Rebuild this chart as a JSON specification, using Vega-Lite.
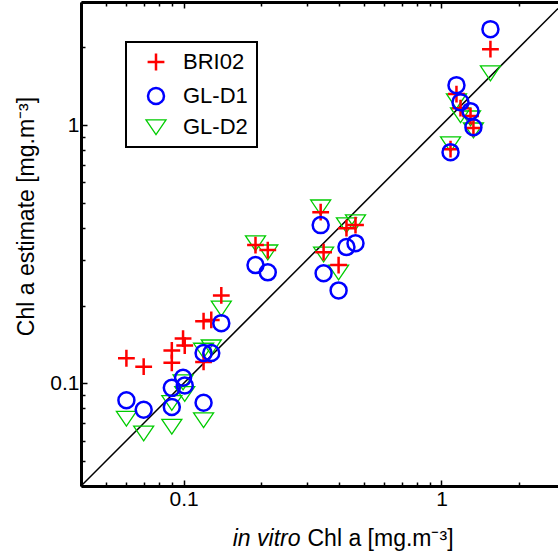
{
  "$schema": "https://vega.github.io/schema/vega-lite/v6.json",
  "width": 477,
  "height": 484,
  "autosize": {"type": "none"},
  "padding": {"left": 81, "top": 2, "right": 0, "bottom": 66},
  "background": "white",
  "config": {
    "view": {"stroke": null},
    "font": "Liberation Sans",
    "legend": {"strokeWidth": 2}
  },
  "datasets": {
    "diag": [{"v": 0.04}, {"v": 2.83}],
    "pts": [
      {"x": 0.060, "y": 0.073, "series": "GL-D2"},
      {"x": 0.070, "y": 0.064, "series": "GL-D2"},
      {"x": 0.090, "y": 0.084, "series": "GL-D2"},
      {"x": 0.090, "y": 0.068, "series": "GL-D2"},
      {"x": 0.0995, "y": 0.101, "series": "GL-D2"},
      {"x": 0.101, "y": 0.091, "series": "GL-D2"},
      {"x": 0.1195, "y": 0.134, "series": "GL-D2"},
      {"x": 0.128, "y": 0.138, "series": "GL-D2"},
      {"x": 0.1195, "y": 0.072, "series": "GL-D2"},
      {"x": 0.140, "y": 0.195, "series": "GL-D2"},
      {"x": 0.190, "y": 0.349, "series": "GL-D2"},
      {"x": 0.212, "y": 0.322, "series": "GL-D2"},
      {"x": 0.340, "y": 0.481, "series": "GL-D2"},
      {"x": 0.349, "y": 0.316, "series": "GL-D2"},
      {"x": 0.399, "y": 0.269, "series": "GL-D2"},
      {"x": 0.428, "y": 0.410, "series": "GL-D2"},
      {"x": 0.464, "y": 0.421, "series": "GL-D2"},
      {"x": 1.084, "y": 0.844, "series": "GL-D2"},
      {"x": 1.143, "y": 1.239, "series": "GL-D2"},
      {"x": 1.185, "y": 1.094, "series": "GL-D2"},
      {"x": 1.296, "y": 1.064, "series": "GL-D2"},
      {"x": 1.330, "y": 0.956, "series": "GL-D2"},
      {"x": 1.548, "y": 1.590, "series": "GL-D2"},
      {"x": 0.060, "y": 0.125, "series": "BRI02"},
      {"x": 0.070, "y": 0.116, "series": "BRI02"},
      {"x": 0.090, "y": 0.134, "series": "BRI02"},
      {"x": 0.090, "y": 0.120, "series": "BRI02"},
      {"x": 0.0995, "y": 0.149, "series": "BRI02"},
      {"x": 0.101, "y": 0.140, "series": "BRI02"},
      {"x": 0.1195, "y": 0.174, "series": "BRI02"},
      {"x": 0.128, "y": 0.176, "series": "BRI02"},
      {"x": 0.1195, "y": 0.121, "series": "BRI02"},
      {"x": 0.140, "y": 0.219, "series": "BRI02"},
      {"x": 0.190, "y": 0.343, "series": "BRI02"},
      {"x": 0.212, "y": 0.328, "series": "BRI02"},
      {"x": 0.340, "y": 0.460, "series": "BRI02"},
      {"x": 0.349, "y": 0.322, "series": "BRI02"},
      {"x": 0.399, "y": 0.287, "series": "BRI02"},
      {"x": 0.428, "y": 0.399, "series": "BRI02"},
      {"x": 0.464, "y": 0.410, "series": "BRI02"},
      {"x": 1.084, "y": 0.807, "series": "BRI02"},
      {"x": 1.143, "y": 1.319, "series": "BRI02"},
      {"x": 1.185, "y": 1.164, "series": "BRI02"},
      {"x": 1.296, "y": 1.084, "series": "BRI02"},
      {"x": 1.330, "y": 0.974, "series": "BRI02"},
      {"x": 1.548, "y": 1.970, "series": "BRI02"},
      {"x": 0.060, "y": 0.086, "series": "GL-D1"},
      {"x": 0.070, "y": 0.079, "series": "GL-D1"},
      {"x": 0.090, "y": 0.096, "series": "GL-D1"},
      {"x": 0.090, "y": 0.081, "series": "GL-D1"},
      {"x": 0.0995, "y": 0.105, "series": "GL-D1"},
      {"x": 0.101, "y": 0.098, "series": "GL-D1"},
      {"x": 0.1195, "y": 0.131, "series": "GL-D1"},
      {"x": 0.128, "y": 0.131, "series": "GL-D1"},
      {"x": 0.1195, "y": 0.084, "series": "GL-D1"},
      {"x": 0.140, "y": 0.171, "series": "GL-D1"},
      {"x": 0.190, "y": 0.287, "series": "GL-D1"},
      {"x": 0.212, "y": 0.269, "series": "GL-D1"},
      {"x": 0.340, "y": 0.410, "series": "GL-D1"},
      {"x": 0.349, "y": 0.267, "series": "GL-D1"},
      {"x": 0.399, "y": 0.229, "series": "GL-D1"},
      {"x": 0.428, "y": 0.337, "series": "GL-D1"},
      {"x": 0.464, "y": 0.349, "series": "GL-D1"},
      {"x": 1.084, "y": 0.786, "series": "GL-D1"},
      {"x": 1.143, "y": 1.429, "series": "GL-D1"},
      {"x": 1.185, "y": 1.228, "series": "GL-D1"},
      {"x": 1.296, "y": 1.133, "series": "GL-D1"},
      {"x": 1.330, "y": 0.982, "series": "GL-D1"},
      {"x": 1.548, "y": 2.355, "series": "GL-D1"}
    ]
  },
  "layer": [
    {
      "data": {"name": "diag"},
      "mark": {"type": "line", "color": "black", "strokeWidth": 1.5, "clip": true},
      "encoding": {
        "x": {
          "field": "v", "type": "quantitative",
          "scale": {"type": "log", "domain": [0.04, 2.83], "nice": false, "zero": false},
          "axis": {
            "orient": "top",
            "values": [0.04, 0.05, 0.06, 0.07, 0.08, 0.09, 0.1, 0.2, 0.3, 0.4, 0.5, 0.6, 0.7, 0.8, 0.9, 1, 2],
            "labels": false,
            "grid": false,
            "domainColor": "black", "domainWidth": 3,
            "tickColor": "black", "tickWidth": 1.5,
            "tickSize": {"condition": {"test": "datum.value == 0.1 || datum.value == 1", "value": -6}, "value": -4},
            "title": "in vitro",
            "titleFont": "Liberation Sans", "titleFontSize": 23, "titleFontStyle": "italic", "titleFontWeight": "normal",
            "titleColor": "black", "titleAlign": "right", "titleBaseline": "alphabetic",
            "titleX": 219, "titleY": 543, "titleAngle": 0
          }
        },
        "y": {
          "field": "v", "type": "quantitative",
          "scale": {"type": "log", "domain": [0.04, 3], "nice": false, "zero": false},
          "axis": {
            "orient": "left",
            "values": [0.04, 0.05, 0.06, 0.07, 0.08, 0.09, 0.1, 0.2, 0.3, 0.4, 0.5, 0.6, 0.7, 0.8, 0.9, 1, 2, 3],
            "labelExpr": "datum.value == 0.1 ? '0.1' : datum.value == 1 ? '1' : ''",
            "labelFont": "Liberation Sans", "labelFontSize": 21, "labelColor": "black",
            "labelPadding": 8, "labelOverlap": false, "labelFlush": false,
            "grid": false,
            "domainColor": "black", "domainWidth": 3,
            "tickColor": "black", "tickWidth": 1.5,
            "tickSize": {"condition": {"test": "datum.value == 0.1 || datum.value == 1", "value": -6}, "value": -4},
            "title": "Chl a estimate [mg.m⁻³]",
            "titleFont": "Liberation Sans", "titleFontSize": 23, "titleFontWeight": "normal", "titleColor": "black",
            "titleAlign": "center", "titleBaseline": "alphabetic", "titleAngle": 270,
            "titleX": -48, "titleY": 214
          }
        }
      }
    },
    {
      "data": {"name": "pts"},
      "mark": {"type": "point", "filled": false, "clip": true, "size": 256, "opacity": 1},
      "encoding": {
        "x": {
          "field": "x", "type": "quantitative",
          "scale": {"type": "log", "domain": [0.04, 2.83], "nice": false, "zero": false},
          "axis": {
            "orient": "bottom",
            "values": [0.04, 0.05, 0.06, 0.07, 0.08, 0.09, 0.1, 0.2, 0.3, 0.4, 0.5, 0.6, 0.7, 0.8, 0.9, 1, 2],
            "labelExpr": "datum.value == 0.1 ? '0.1' : datum.value == 1 ? '1' : ''",
            "labelFont": "Liberation Sans", "labelFontSize": 21, "labelColor": "black",
            "labelPadding": 8, "labelOverlap": false, "labelFlush": false,
            "grid": false,
            "domainColor": "black", "domainWidth": 3,
            "tickColor": "black", "tickWidth": 1.5,
            "tickSize": {"condition": {"test": "datum.value == 0.1 || datum.value == 1", "value": -6}, "value": -4},
            "title": "Chl a [mg.m⁻³]",
            "titleFont": "Liberation Sans", "titleFontSize": 23, "titleFontWeight": "normal", "titleColor": "black",
            "titleAlign": "left", "titleBaseline": "alphabetic",
            "titleX": 226, "titleY": 59
          }
        },
        "y": {
          "field": "y", "type": "quantitative",
          "scale": {"type": "log", "domain": [0.04, 3], "nice": false, "zero": false},
          "axis": {
            "orient": "left",
            "values": [0.04, 0.05, 0.06, 0.07, 0.08, 0.09, 0.1, 0.2, 0.3, 0.4, 0.5, 0.6, 0.7, 0.8, 0.9, 1, 2, 3],
            "labelExpr": "datum.value == 0.1 ? '0.1' : datum.value == 1 ? '1' : ''",
            "labelFont": "Liberation Sans", "labelFontSize": 21, "labelColor": "black",
            "labelPadding": 8, "labelOverlap": false, "labelFlush": false,
            "grid": false,
            "domainColor": "black", "domainWidth": 3,
            "tickColor": "black", "tickWidth": 1.5,
            "tickSize": {"condition": {"test": "datum.value == 0.1 || datum.value == 1", "value": -6}, "value": -4},
            "title": "Chl a estimate [mg.m⁻³]",
            "titleFont": "Liberation Sans", "titleFontSize": 23, "titleFontWeight": "normal", "titleColor": "black",
            "titleAlign": "center", "titleBaseline": "alphabetic", "titleAngle": 270,
            "titleX": -48, "titleY": 214
          }
        },
        "color": {
          "field": "series", "type": "nominal",
          "scale": {"domain": ["BRI02", "GL-D1", "GL-D2"], "range": ["#ff0000", "#0000ff", "#00cc00"]},
          "legend": {
            "title": null,
            "orient": "none", "legendX": 45, "legendY": 40,
            "strokeColor": "black", "fillColor": "white",
            "padding": 9, "rowPadding": 7,
            "symbolSize": 256, "symbolStrokeWidth": 2, "symbolOffset": 10,
            "labelFont": "Liberation Sans", "labelFontSize": 22, "labelColor": "black", "labelOffset": 16
          }
        },
        "shape": {
          "field": "series", "type": "nominal",
          "scale": {"domain": ["BRI02", "GL-D1", "GL-D2"], "range": ["M-1.05,0H1.05M0,-1.05V1.05", "circle", "M-1.25,-0.9L1.25,-0.9L0,0.95Z"]}
        },
        "strokeWidth": {
          "field": "series", "type": "ordinal",
          "scale": {"type": "ordinal", "domain": ["BRI02", "GL-D1", "GL-D2"], "range": [2.5, 2.5, 1.3]},
          "legend": null
        }
      }
    }
  ],
  "resolve": {"axis": {"x": "independent"}}
}
